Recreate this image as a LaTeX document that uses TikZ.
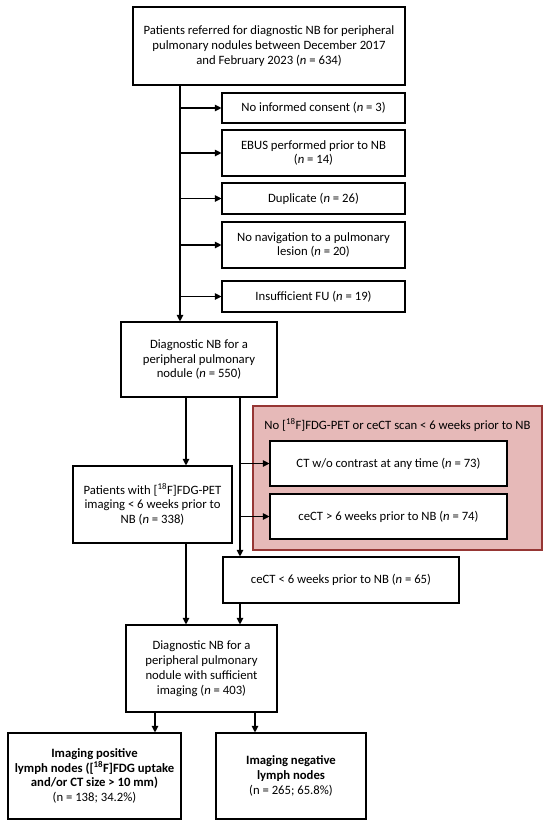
\documentclass[tikz,border=0pt]{standalone}
\usepackage{tikz}
\usepackage{fontspec}
\setmainfont{Carlito}
\usetikzlibrary{arrows.meta}

\definecolor{exclfill}{RGB}{230,185,184}
\definecolor{excldraw}{RGB}{150,54,52}

\begin{document}
\begin{tikzpicture}[x=1pt,y=1pt,yscale=-1,xscale=1,
  font=\fontsize{12.7}{14.8}\selectfont,
  box/.style={draw=black,line width=1.1pt,fill=white,align=center,inner sep=2pt},
  arr/.style={-{Triangle[length=6.5pt,width=6.5pt]},line width=1.1pt}]
%set diagram to the size of the reference
\useasboundingbox (0,0) rectangle (550,827);

%Shape: Rectangle [top]
\node[box,minimum width=272,minimum height=78] (referred) at (269,46) {Patients referred for diagnostic NB for peripheral\\pulmonary nodules between December 2017\\and February 2023 (\textit{n} = 634)};

%Shape: Rectangle [exclusions]
\node[box,minimum width=183,minimum height=30] (consent) at (313.5,108) {No informed consent (\textit{n} = 3)};
\node[box,minimum width=183,minimum height=46] (ebus) at (313.5,153) {EBUS performed prior to NB\\(\textit{n} = 14)};
\node[box,minimum width=183,minimum height=31] (duplicate) at (313.5,198.5) {Duplicate (\textit{n} = 26)};
\node[box,minimum width=183,minimum height=46] (nonav) at (313.5,245) {No navigation to a pulmonary\\lesion (\textit{n} = 20)};
\node[box,minimum width=183,minimum height=31] (followup) at (313.5,296.5) {Insufficient FU (\textit{n} = 19)};

%Shape: Rectangle [included]
\node[box,minimum width=156,minimum height=75] (included) at (199,359.5) {Diagnostic NB for a\\peripheral pulmonary\\nodule (\textit{n} = 550)};

%Shape: Rectangle [no imaging group]
\node[draw=excldraw,fill=exclfill,line width=1.1pt,minimum width=289,minimum height=144] (noimaging) at (397.5,478) {};
% Text Node
\node (noimgtitle) at (397.5,425) {No [\textsuperscript{18}F]FDG-PET or ceCT scan < 6 weeks prior to NB};
\node[box,minimum width=237,minimum height=45] (ctplain) at (388.5,463.5) {CT w/o contrast at any time (\textit{n} = 73)};
\node[box,minimum width=237,minimum height=45] (cectlate) at (388.5,516.5) {ceCT > 6 weeks prior to NB (\textit{n} = 74)};

%Shape: Rectangle [imaging]
\node[box,minimum width=159,minimum height=77] (pet) at (152.5,504.5) {Patients with [\textsuperscript{18}F]FDG-PET\\imaging < 6 weeks prior to\\NB (\textit{n} = 338)};
\node[box,minimum width=236,minimum height=46] (cect) at (341,580) {ceCT < 6 weeks prior to NB (\textit{n} = 65)};
\node[box,minimum width=151,minimum height=87] (sufficient) at (201.5,668.5) {Diagnostic NB for a\\peripheral pulmonary\\nodule with sufficient\\imaging (\textit{n} = 403)};

%Shape: Rectangle [outcome]
\node[box,minimum width=173,minimum height=86] (positive) at (94.5,776) {\textbf{Imaging positive}\\\textbf{lymph nodes ([\textsuperscript{18}F]FDG uptake}\\\textbf{and/or CT size > 10 mm)}\\(n = 138; 34.2\%)};
\node[box,minimum width=150,minimum height=86] (negative) at (291,776) {\textbf{Imaging negative}\\\textbf{lymph nodes}\\(n = 265; 65.8\%)};

%Straight Lines [trunk]
\coordinate (trunk) at (180,85);
\draw[arr] (trunk) -- (trunk |- included.north);
\draw[arr] (trunk |- consent) -- (consent.west);
\draw[arr] (trunk |- ebus) -- (ebus.west);
\draw[arr] (trunk |- duplicate) -- (duplicate.west);
\draw[arr] (trunk |- nonav) -- (nonav.west);
\draw[arr] (trunk |- followup) -- (followup.west);

%Straight Lines [split]
\coordinate (petline) at (186,397);
\coordinate (ctline) at (240,397);
\draw[arr] (petline) -- (petline |- pet.north);
\draw[arr] (ctline) -- (ctline |- cect.north);
\draw[arr] (ctline |- ctplain) -- (ctplain.west);
\draw[arr] (ctline |- cectlate) -- (cectlate.west);

%Straight Lines [merge]
\draw[arr] (petline |- pet.south) -- (petline |- sufficient.north);
\draw[arr] (ctline |- cect.south) -- (ctline |- sufficient.north);

%Straight Lines [outcome]
\coordinate (posline) at (155,712);
\coordinate (negline) at (255,712);
\draw[arr] (posline) -- (posline |- positive.north);
\draw[arr] (negline) -- (negline |- negative.north);

\end{tikzpicture}
\end{document}
